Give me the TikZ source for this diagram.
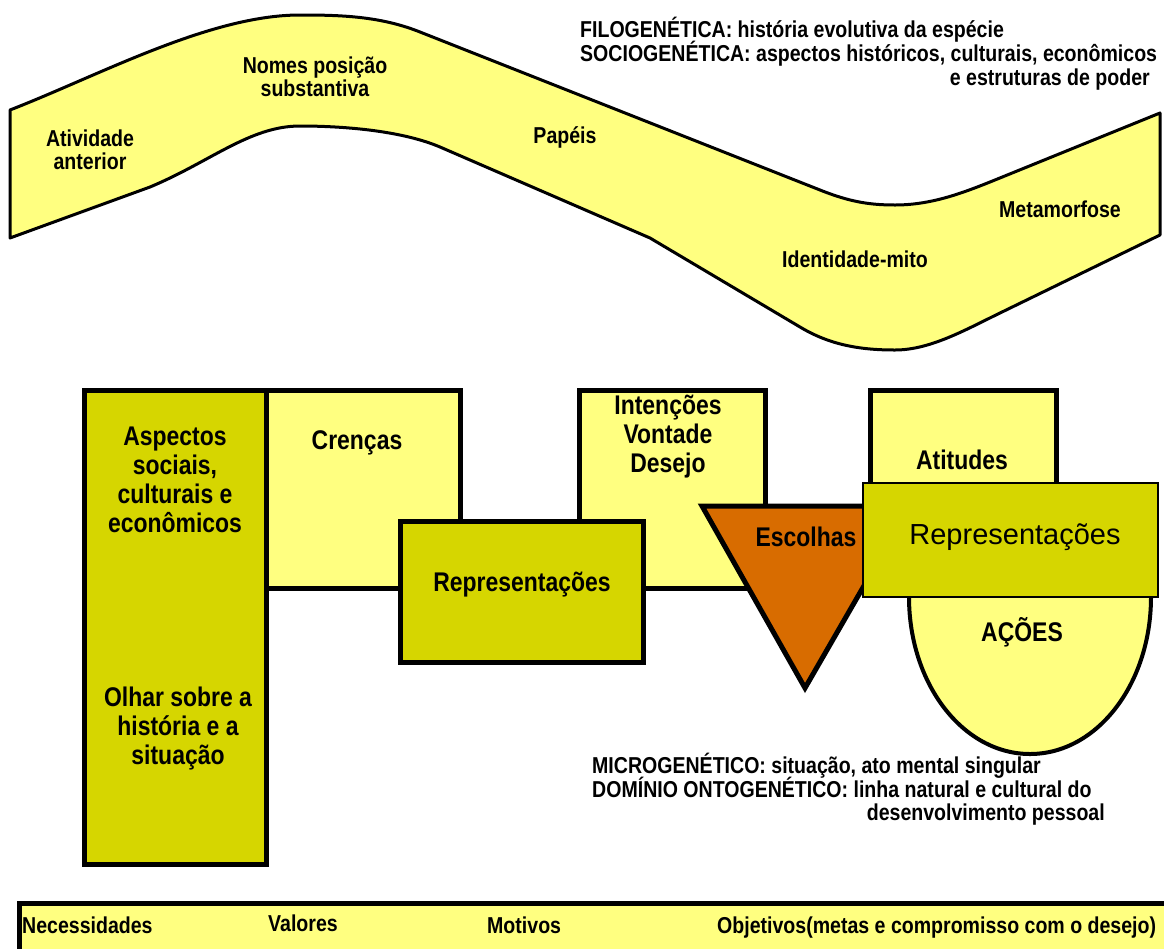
\documentclass[tikz,border=0pt]{standalone}
\usepackage{fontspec}
\setmainfont{Liberation Sans}
\newfontfamily\nf{Liberation Sans}[FakeStretch=0.85]
\definecolor{lightyel}{HTML}{FFFF80}
\definecolor{oliveY}{HTML}{D6D600}
\definecolor{orangeE}{HTML}{D86C00}
\begin{document}
\begin{tikzpicture}[x=1pt,y=-1pt,
  lbl/.style={font=\nf\bfseries\fontsize{23}{23}\selectfont, inner sep=0pt, align=center},
  oneline/.style={lbl, text height=15pt, text depth=4pt},
  boxtxt/.style={font=\nf\bfseries\fontsize{27}{29}\selectfont, inner sep=0pt, align=center},
  thick box/.style={line width=5pt, draw=black, line join=miter},
  wave/.style={fill=lightyel, draw=black, line width=3pt, line join=round}]
\useasboundingbox (0,0) rectangle (1164,948);
\clip (0,0) rectangle (1164,948);
% wave band
\draw[wave] (10,110) .. controls (100,75) and (210,15) .. (300,15)
  .. controls (340,15) and (380,16) .. (420,32) -- (820,190)
  .. controls (850,202) and (870,205) .. (895,205)
  .. controls (930,205) and (960,194) .. (990,182) -- (1160,113)
  -- (1160,235) -- (1000,313)
  .. controls (965,330) and (930,350) .. (895,350)
  .. controls (860,350) and (830,345) .. (800,327)
  -- (650,238) -- (440,147)
  .. controls (400,130) and (340,126) .. (300,126)
  .. controls (250,126) and (210,162) .. (150,187) -- (10,238) -- cycle;
\node[lbl] (nomes) at (315,77) {Nomes posição\\substantiva};
\node[lbl] (ativ) at (90,150) {Atividade\\anterior};
\node[oneline] (papeis) at (565,138) {Papéis};
\node[oneline] (meta) at (1060,212) {Metamorfose};
\node[oneline] (ident) at (855,262) {Identidade-mito};
% top right texts
\node[oneline, anchor=west] (filo) at (580,32) {FILOGENÉTICA: história evolutiva da espécie};
\node[oneline, anchor=west] (socio) at (580,56) {SOCIOGENÉTICA: aspectos históricos, culturais, econômicos};
\node[oneline, anchor=east] (socio2) at (1150,80) {e estruturas de poder};
% boxes
\filldraw[thick box, fill=oliveY] (84,390) rectangle (266,864);
\filldraw[thick box, fill=lightyel] (266,390) rectangle (460,588);
\filldraw[thick box, fill=lightyel] (579,390) rectangle (765,588);
\filldraw[thick box, fill=oliveY] (400,521) rectangle (643,662);
\filldraw[thick box, fill=lightyel] (870,390) rectangle (1056,520);
\filldraw[fill=lightyel, draw=black, line width=4pt] (909,590) -- (909,597)
  .. controls (909,684) and (963,754) .. (1030,754)
  .. controls (1097,754) and (1151,684) .. (1151,597) -- (1151,590) -- cycle;
\filldraw[thick box, fill=orangeE] (702,506) -- (910,506) -- (805,688) -- cycle;
\filldraw[fill=oliveY, draw=black, line width=1.5pt] (863,483) rectangle (1158,597);
% box texts
\node[boxtxt] (asp) at (175,480) {Aspectos\\sociais,\\culturais e\\econômicos};
\node[boxtxt] (olhar) at (178,729) {Olhar sobre a\\história e a\\situação};
\node[boxtxt] (cren) at (357,443) {Crenças};
\node[boxtxt] (repr1) at (522,585) {Representações};
\node[boxtxt] (inten) at (668,437) {Intenções\\Vontade\\Desejo};
\node[boxtxt] (atit) at (962,460) {Atitudes};
\node[boxtxt] (esc) at (806,537) {Escolhas};
\node[font=\fontsize{29}{29}\selectfont, inner sep=0pt] (repr2) at (1015,537) {Representações};
\node[boxtxt] (acoes) at (1022,632) {AÇÕES};
% lower right texts
\node[oneline, anchor=west] (micro) at (592,768) {MICROGENÉTICO: situação, ato mental singular};
\node[oneline, anchor=west] (onto) at (592,792) {DOMÍNIO ONTOGENÉTICO: linha natural e cultural do};
\node[oneline, anchor=east] (onto2) at (1105,815) {desenvolvimento pessoal};
% bottom bar
\filldraw[thick box, fill=lightyel] (19,903) rectangle (1200,1000);
\node[oneline, anchor=west] (nec) at (22,928) {Necessidades};
\node[oneline, anchor=west] (val) at (268,926) {Valores};
\node[oneline, anchor=west] (mot) at (487,928) {Motivos};
\node[oneline, anchor=west] (obj) at (717,928) {Objetivos(metas e compromisso com o desejo)};
\end{tikzpicture}
\end{document}
